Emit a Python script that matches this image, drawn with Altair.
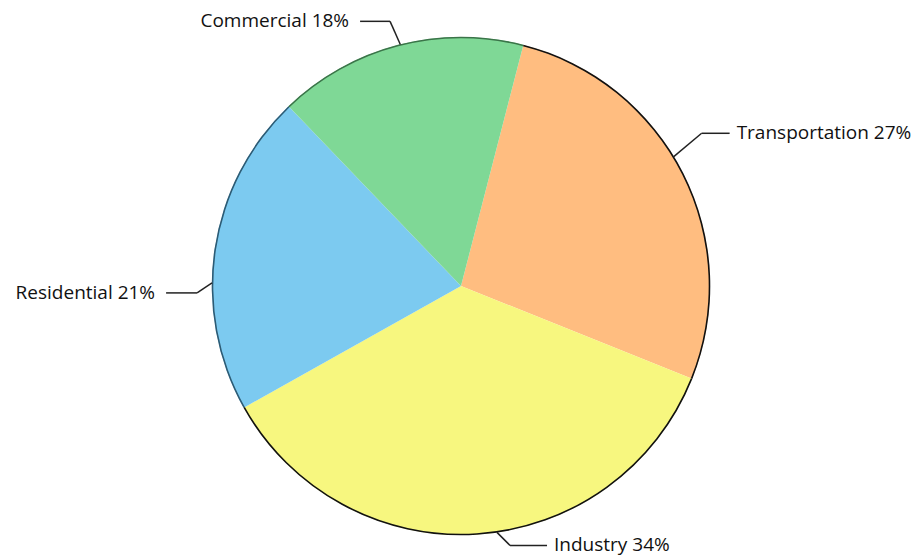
import math
import altair as alt
import pandas as pd

# ---------------- data ----------------
categories = ["Transportation", "Industry", "Residential", "Commercial"]
shares = [27.05, 35.8, 20.95, 16.2]          # slice sizes as drawn (percent of circle)
label_pct = [27, 34, 21, 18]                  # percentages printed in the labels

# ---------------- styles / layout ----------------
fills = ["#ffbd80", "#f7f77f", "#7ccaf0", "#7fd896"]
outlines = ["#111111", "#111111", "#2d5b74", "#3b7449"]

W, H = 918, 556
CX, CY, R = 461, 286, 249
START_DEG = 14.5
# label connector layout (polar, degrees clockwise from 12 o'clock)
edge_deg = [58.7, 171.7, 270.7, 345.9]
elbow_deg = [57.6, 169.3, 268.5, 345.0]
elbow_r = [285, 264, 264, 274]
hseg = [28, 37, 31, 30]
GAP = 7
FONT = "Open Sans"
FONT_SIZE = 19

rows = []
for i, c in enumerate(categories):
    ea = math.radians(edge_deg[i])
    ba = math.radians(elbow_deg[i])
    ex, ey = CX + R * math.sin(ea), CY - R * math.cos(ea)
    bx, by = CX + elbow_r[i] * math.sin(ba), CY - elbow_r[i] * math.cos(ba)
    side = 1 if bx > CX else -1
    hx = bx + side * hseg[i]
    rows.append(dict(
        idx=i, cat=c, share=shares[i], fill=fills[i], outline=outlines[i],
        label=f"{c} {label_pct[i]}%",
        ex=ex, ey=ey, bx=bx, by=by, hx=hx, hy=by,
        tx=hx + side * (GAP if side > 0 else GAP + 4), side="left" if side > 0 else "right",
    ))
df = pd.DataFrame(rows)

t0 = math.radians(START_DEG)
theta = alt.Theta("share:Q", stack=True, scale=alt.Scale(range=[t0, t0 + 2 * math.pi]))
order = alt.Order("idx:Q")

pie = alt.Chart(df).mark_arc(x=CX, y=CY, radius=R, stroke=None).encode(
    theta=theta, order=order, color=alt.Color("fill:N", scale=None)
)
ring = alt.Chart(df).mark_arc(x=CX, y=CY, radius=R + 0.3, radius2=R - 1.3).encode(
    theta=theta, order=order, color=alt.Color("outline:N", scale=None)
)

seg1 = alt.Chart(df).mark_rule(color="#222222", strokeWidth=1.5).encode(
    x=alt.X("ex:Q", scale=None), y=alt.Y("ey:Q", scale=None),
    x2="bx:Q", y2="by:Q",
)
seg2 = alt.Chart(df).mark_rule(color="#222222", strokeWidth=1.5).encode(
    x=alt.X("bx:Q", scale=None), y=alt.Y("by:Q", scale=None),
    x2="hx:Q", y2="hy:Q",
)

txt_left = alt.Chart(df).transform_filter("datum.side == 'left'").mark_text(
    align="left", baseline="middle", font=FONT, fontSize=FONT_SIZE, color="#111111"
).encode(x=alt.X("tx:Q", scale=None), y=alt.Y("by:Q", scale=None), text="label:N")
txt_right = alt.Chart(df).transform_filter("datum.side == 'right'").mark_text(
    align="right", baseline="middle", font=FONT, fontSize=FONT_SIZE, color="#111111"
).encode(x=alt.X("tx:Q", scale=None), y=alt.Y("by:Q", scale=None), text="label:N")

chart = alt.layer(pie, ring, seg1, seg2, txt_left, txt_right).properties(
    width=W, height=H, autosize=alt.AutoSizeParams(type="none"), padding=0
).configure_view(stroke=None)

chart.save("out.html", embed_options={"renderer": "svg", "actions": False})
